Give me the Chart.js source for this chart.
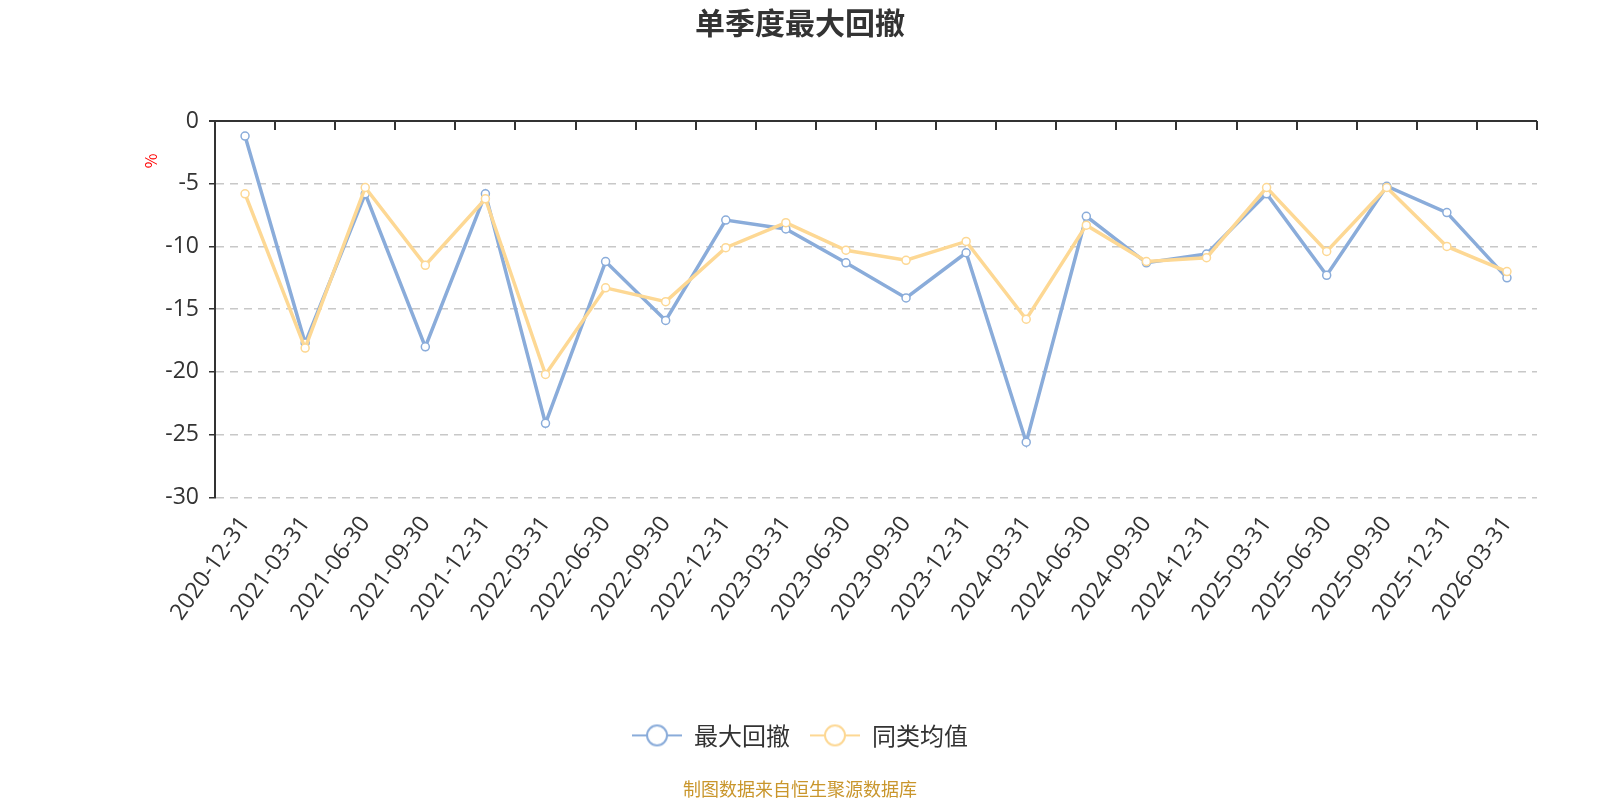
<!DOCTYPE html>
<html>
<head>
<meta charset="utf-8">
<script src="https://cdn.jsdelivr.net/npm/chart.js@4/dist/chart.umd.min.js"></script>
<style>
    html, body { margin: 0; padding: 0; background: #fff; }
    #wrap { width: 1600px; height: 800px; }
</style>
</head>
<body>
<div id="wrap"><canvas id="chart"></canvas></div>
<script>
const quarters = ['2020-12-31', '2021-03-31', '2021-06-30', '2021-09-30', '2021-12-31', '2022-03-31',
    '2022-06-30', '2022-09-30', '2022-12-31', '2023-03-31', '2023-06-30', '2023-09-30', '2023-12-31',
    '2024-03-31', '2024-06-30', '2024-09-30', '2024-12-31', '2025-03-31', '2025-06-30', '2025-09-30',
    '2025-12-31', '2026-03-31'];
const maxDrawdown = [-1.2, -17.7, -5.8, -18.0, -5.8, -24.1, -11.2, -15.9, -7.9, -8.6, -11.3,
    -14.1, -10.5, -25.6, -7.6, -11.3, -10.6, -5.8, -12.3, -5.2, -7.3, -12.5];
const peerAverage = [-5.8, -18.1, -5.3, -11.5, -6.2, -20.2, -13.3, -14.4, -10.1, -8.1, -10.3,
    -11.1, -9.6, -15.8, -8.3, -11.2, -10.9, -5.3, -10.4, -5.3, -10.0, -12.0];
const seriesNames = ['最大回撤', '同类均值'];
const yTicks = [0, -5, -10, -15, -20, -25, -30];

const FONT = '"Noto Sans CJK SC", "Noto Sans", sans-serif';
const NUM_FONT = '"Open Sans", "Noto Sans CJK SC", sans-serif';
const BLUE = '#8aacda';
const YELLOW = '#fdd894';

// legend icon: short line with a hollow circle, like the original
function legendIcon(color) {
    const c = document.createElement('canvas');
    c.width = 50;
    c.height = 24;
    const g = c.getContext('2d');
    g.strokeStyle = color;
    g.lineWidth = 2;
    g.beginPath();
    g.moveTo(0, 12);
    g.lineTo(50, 12);
    g.stroke();
    g.beginPath();
    g.arc(25, 12, 10, 0, Math.PI * 2);
    g.fillStyle = '#fff';
    g.fill();
    g.stroke();
    return c;
}

// top axis line at 0 with ticks pointing down, plus the red % unit
const axisDecor = {
    id: 'axisDecor',
    afterDatasetsDraw(chart) {
        const ctx = chart.ctx;
        const x = chart.scales.x;
        const y = chart.scales.y;
        const y0 = y.getPixelForValue(0);
        ctx.save();
        ctx.strokeStyle = '#333';
        ctx.lineWidth = 2;
        ctx.beginPath();
        ctx.moveTo(chart.chartArea.left - 6, y0);
        ctx.lineTo(chart.chartArea.right, y0);
        for (let i = 0; i <= quarters.length; i++) {
            const px = Math.round(x.getPixelForValue(i - 0.5));
            ctx.moveTo(px, y0);
            ctx.lineTo(px, y0 + 9);
        }
        ctx.stroke();

        ctx.translate(chart.chartArea.left - 64, y.top + 40);
        ctx.rotate(-Math.PI / 2);
        ctx.fillStyle = '#ff0000';
        ctx.font = '16px ' + FONT;
        ctx.textAlign = 'center';
        ctx.textBaseline = 'middle';
        ctx.fillText('%', 0, 0);
        ctx.restore();
    }
};

const ctx = document.getElementById('chart').getContext('2d');
new Chart(ctx, {
    type: 'line',
    data: {
        labels: quarters,
        datasets: [{
            label: seriesNames[0],
            data: maxDrawdown,
            borderColor: BLUE,
            backgroundColor: '#fff',
            pointBackgroundColor: '#fff',
            pointBorderColor: BLUE,
            borderWidth: 3.5,
            pointRadius: 4,
            pointBorderWidth: 1.5,
            tension: 0,
            order: 1
        }, {
            label: seriesNames[1],
            data: peerAverage,
            borderColor: YELLOW,
            backgroundColor: '#fff',
            pointBackgroundColor: '#fff',
            pointBorderColor: YELLOW,
            borderWidth: 3.5,
            pointRadius: 4,
            pointBorderWidth: 1.5,
            tension: 0,
            order: 0
        }]
    },
    options: {
        responsive: true,
        maintainAspectRatio: false,
        animation: false,
        layout: { padding: 0 },
        plugins: {
            title: {
                display: true,
                text: '单季度最大回撤',
                color: '#333',
                font: { family: FONT, size: 30, weight: 'bold' },
                padding: { top: 5, bottom: 80 }
            },
            subtitle: {
                display: true,
                position: 'bottom',
                text: '制图数据来自恒生聚源数据库',
                color: '#c9962c',
                font: { family: FONT, size: 18 },
                padding: { top: 21, bottom: 0 }
            },
            legend: {
                position: 'bottom',
                labels: {
                    usePointStyle: true,
                    pointStyleWidth: 50,
                    padding: 20,
                    color: '#333',
                    font: { family: FONT, size: 24 },
                    generateLabels: chart => chart.data.datasets.map((ds, i) => ({
                        text: ds.label,
                        pointStyle: legendIcon(ds.borderColor),
                        fillStyle: '#fff',
                        strokeStyle: ds.borderColor,
                        lineWidth: 0,
                        fontColor: '#333',
                        hidden: false,
                        datasetIndex: i
                    }))
                }
            },
            tooltip: { enabled: false }
        },
        scales: {
            x: {
                offset: true,
                grid: { display: false, offset: true },
                border: { display: false },
                ticks: {
                    color: '#333',
                    font: { family: NUM_FONT, size: 23 },
                    maxRotation: 55,
                    minRotation: 55,
                    autoSkip: false,
                    padding: 6
                },
                afterFit: scale => { scale.height = 206; }
            },
            y: {
                min: -30,
                max: 0,
                afterBuildTicks: scale => { scale.ticks = yTicks.map(v => ({ value: v })); },
                grid: {
                    color: c => (c.tick && c.tick.value === 0 ? 'rgba(0,0,0,0)' : '#c8c8c8'),
                    tickColor: '#333',
                    tickLength: 6,
                    lineWidth: 1.5
                },
                border: { display: true, color: '#333', width: 2, dash: [8, 6] },
                ticks: {
                    color: '#333',
                    font: { family: NUM_FONT, size: 23 },
                    padding: 10
                },
                afterFit: scale => { scale.width = 215; }
            },
            // empty right-hand axis, only reserves the right margin
            yRight: {
                position: 'right',
                grid: { display: false },
                border: { display: false },
                ticks: { display: false },
                afterFit: scale => { scale.width = 63; }
            }
        }
    },
    plugins: [axisDecor]
});
</script>
</body>
</html>
